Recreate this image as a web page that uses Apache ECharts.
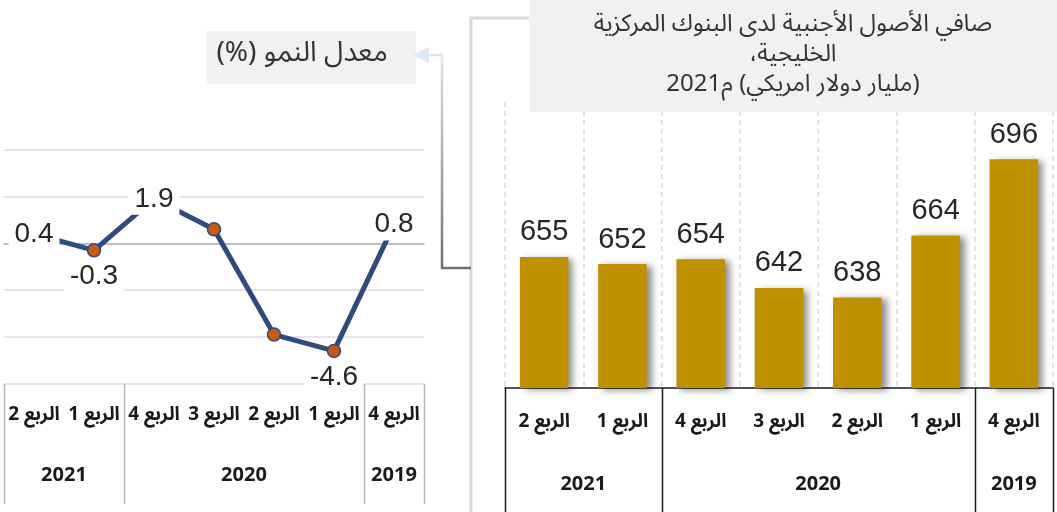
<!DOCTYPE html>
<html>
<head>
<meta charset="utf-8">
<script src="https://cdn.jsdelivr.net/npm/echarts@6/dist/echarts.min.js"></script>
<style>
  html, body { margin: 0; padding: 0; background: #ffffff; }
  #chart { width: 1057px; height: 512px; }
</style>
</head>
<body>
<div id="chart"></div>
<script>
// Quarters in chronological order (2019 Q4 -> 2021 Q2); axes are inverted so the oldest sits on the right.
const quarterLabels = ['الربع 4', 'الربع 1', 'الربع 2', 'الربع 3', 'الربع 4', 'الربع 1', 'الربع 2'];
const quarterYears = ['2019', '2020', '2020', '2020', '2020', '2021', '2021'];
// Growth rate (%)
const growthRate = [0.8, -4.6, -3.9, 0.6, 1.9, -0.3, 0.4];
// Net foreign assets of GCC central banks (billion USD)
const foreignAssets = [696, 664, 638, 642, 654, 652, 655];
// Value-axis ranges
const growthAxis = { min: -6, max: 4, interval: 2 };
const assetAxis = { min: 600, max: 720 };

// Title texts; the last line is laid out token by token (year, suffix, unit)
const titleLines = [
  '\u202Bصافي الأصول الأجنبية لدى البنوك المركزية\u202C',
  '\u202Bالخليجية،\u202C'
];
const titleYear = '2021';
const titleYearSuffix = 'م';
const titleUnit = '(مليار دولار امريكي)';
const growthTitle = '\u202Bمعدل النمو (%)\u202C';

// Where each growth label sits relative to its point (null = no label)
const growthLabelPlacement = ['inside', 'bottom', null, null, 'inside', 'bottom', 'inside'];

const AR_FONT = '"Noto Sans Arabic", "DejaVu Sans", sans-serif';
const NUM_FONT = '"Liberation Sans", Arial, sans-serif';
const TEXT_COLOR = '#262626';

// Split-line colours: the zero line is darker than the rest
const growthTickCount = Math.round((growthAxis.max - growthAxis.min) / growthAxis.interval) + 1;
const growthSplitColors = [];
for (let k = 0; k < growthTickCount; k++) {
  const v = growthAxis.min + k * growthAxis.interval;
  growthSplitColors.push(v === 0 ? '#a6a6a6' : '#dcdcdc');
}

const chart = echarts.init(document.getElementById('chart'), null, { renderer: 'canvas' });

const axisLabelStyle = {
  interval: 0,
  fontFamily: AR_FONT,
  fontWeight: 'bold',
  fontSize: 19,
  color: '#1a1a1a'
};

chart.setOption({
  animation: false,
  backgroundColor: '#ffffff',
  grid: [
    { left: 4, width: 420, top: 149.7, height: 234 },
    { left: 505, width: 548, top: 102, height: 286 }
  ],
  xAxis: [
    {
      type: 'category', gridIndex: 0, data: quarterLabels, inverse: true,
      axisLine: { lineStyle: { color: '#bdbdbd', width: 1.5 } },
      axisTick: { show: false },
      axisLabel: Object.assign({ margin: 24 }, axisLabelStyle),
      splitLine: { show: false }
    },
    {
      type: 'category', gridIndex: 1, data: quarterLabels, inverse: true,
      axisLine: { lineStyle: { color: '#1a1a1a', width: 1.5 } },
      axisTick: { show: false },
      axisLabel: Object.assign({ margin: 27 }, axisLabelStyle),
      splitLine: { show: true, interval: 0, lineStyle: { color: '#d9d9d9', width: 1.5, type: [5, 4] } }
    }
  ],
  yAxis: [
    {
      type: 'value', gridIndex: 0,
      min: growthAxis.min, max: growthAxis.max, interval: growthAxis.interval,
      axisLabel: { show: false }, axisLine: { show: false }, axisTick: { show: false },
      splitLine: { show: true, showMinLine: true, showMaxLine: true, lineStyle: { color: growthSplitColors, width: 1.5 } }
    },
    {
      type: 'value', gridIndex: 1,
      min: assetAxis.min, max: assetAxis.max,
      axisLabel: { show: false }, axisLine: { show: false }, axisTick: { show: false },
      splitLine: { show: false }
    }
  ],
  series: [
    {
      name: 'growth',
      type: 'line',
      xAxisIndex: 0, yAxisIndex: 0,
      data: growthRate.map((v, i) => ({
        value: v,
        label: { show: !!growthLabelPlacement[i], position: growthLabelPlacement[i] || 'top' }
      })),
      symbol: 'circle',
      symbolSize: 13,
      lineStyle: { color: '#2E4A7E', width: 5 },
      itemStyle: { color: '#C55A11', borderColor: '#2E4A7E', borderWidth: 1.5 },
      label: {
        fontFamily: NUM_FONT, fontSize: 28, color: TEXT_COLOR,
        backgroundColor: '#ffffff', padding: [2, 6], distance: 3
      },
      z: 3
    },
    {
      name: 'assets',
      type: 'bar',
      xAxisIndex: 1, yAxisIndex: 1,
      data: foreignAssets,
      barWidth: '62%',
      itemStyle: {
        color: '#BF9000',
        shadowColor: 'rgba(0,0,0,0.45)', shadowBlur: 7, shadowOffsetX: 5, shadowOffsetY: 2
      },
      label: {
        show: true, position: 'top', distance: 10,
        fontFamily: NUM_FONT, fontSize: 29, color: TEXT_COLOR
      }
    }
  ]
});

// Group quarters by year and draw the year row plus the separators under each axis.
function yearRuns() {
  const runs = [];
  quarterYears.forEach((y, i) => {
    if (runs.length && runs[runs.length - 1].year === y) runs[runs.length - 1].end = i;
    else runs.push({ year: y, start: i, end: i });
  });
  return runs;
}

function axisDecorations(axisIndex, lineTop, lineBottom, lineColor, yearY) {
  const px = i => chart.convertToPixel({ xAxisIndex: axisIndex }, i);
  const step = px(1) - px(0);
  const edge = i => {
    if (i <= 0) return px(0) - step / 2;
    if (i >= quarterYears.length) return px(quarterYears.length - 1) + step / 2;
    return (px(i - 1) + px(i)) / 2;
  };
  const els = [];
  const runs = yearRuns();
  const bounds = new Set();
  runs.forEach(r => { bounds.add(r.start); bounds.add(r.end + 1); });
  bounds.forEach(b => {
    const x = Math.round(edge(b)) + 0.5;
    els.push({
      type: 'line', silent: true, z: 10,
      shape: { x1: x, y1: lineTop, x2: x, y2: lineBottom },
      style: { stroke: lineColor, lineWidth: 1.5 }
    });
  });
  runs.forEach(r => {
    els.push({
      type: 'text', silent: true, z: 10,
      x: (px(r.start) + px(r.end)) / 2, y: yearY,
      style: {
        text: r.year, align: 'center', verticalAlign: 'middle',
        font: 'bold 20px ' + AR_FONT, fill: '#1a1a1a'
      }
    });
  });
  return els;
}

const leftAxisY = chart.convertToPixel({ yAxisIndex: 0 }, growthAxis.min);
const rightAxisY = chart.convertToPixel({ yAxisIndex: 1 }, assetAxis.min);

const titleFont = { fontFamily: AR_FONT, fontSize: 24, fill: '#333333' };

const graphics = [
  // panel frame around the bar chart
  {
    type: 'polyline', silent: true, z: 1,
    shape: { points: [[471, 512], [471, 18], [530, 18]] },
    style: { stroke: '#d9d9d9', lineWidth: 3, fill: null }
  },
  // title box
  {
    type: 'rect', silent: true, z: 5,
    shape: { x: 529, y: 0, width: 528, height: 112 },
    style: { fill: '#F0F2F2' }
  },
  ...titleLines.map((t, i) => ({
    type: 'text', silent: true, z: 6,
    x: 793, y: 27 + i * 30,
    style: { text: t, align: 'center', verticalAlign: 'middle', font: '24px ' + AR_FONT, fill: '#333333' }
  })),
  {
    type: 'text', silent: true, z: 6,
    x: 793, y: 87,
    style: {
      text: '{t|' + titleYear + '}{t|' + titleYearSuffix + '}{t| }{t|' + titleUnit + '}',
      align: 'center', verticalAlign: 'middle',
      rich: { t: titleFont }
    }
  },
  // growth-rate caption
  {
    type: 'rect', silent: true, z: 5,
    shape: { x: 207, y: 31, width: 209, height: 53 },
    style: { fill: '#F0F2F2' }
  },
  {
    type: 'text', silent: true, z: 6,
    x: 302, y: 57,
    style: { text: growthTitle, align: 'center', verticalAlign: 'middle', font: '28px ' + AR_FONT, fill: '#333333' }
  },
  // connector from the bar panel to the caption
  {
    type: 'polyline', silent: true, z: 4,
    shape: { points: [[428, 55], [442, 55], [442, 268], [471, 268]] },
    style: {
      fill: null, lineWidth: 2.5,
      stroke: new echarts.graphic.LinearGradient(0, 0, 0, 1, [
        { offset: 0, color: '#dde8f6' },
        { offset: 1, color: '#6e6e6e' }
      ])
    }
  },
  {
    type: 'polygon', silent: true, z: 7,
    shape: { points: [[413, 55], [429, 47], [429, 63]] },
    style: { fill: '#dde8f6' }
  },
  ...axisDecorations(0, leftAxisY, 504, '#b4b4b4', 478),
  ...axisDecorations(1, rightAxisY, 512, '#1a1a1a', 487)
];

chart.setOption({ graphic: graphics });
</script>
</body>
</html>
